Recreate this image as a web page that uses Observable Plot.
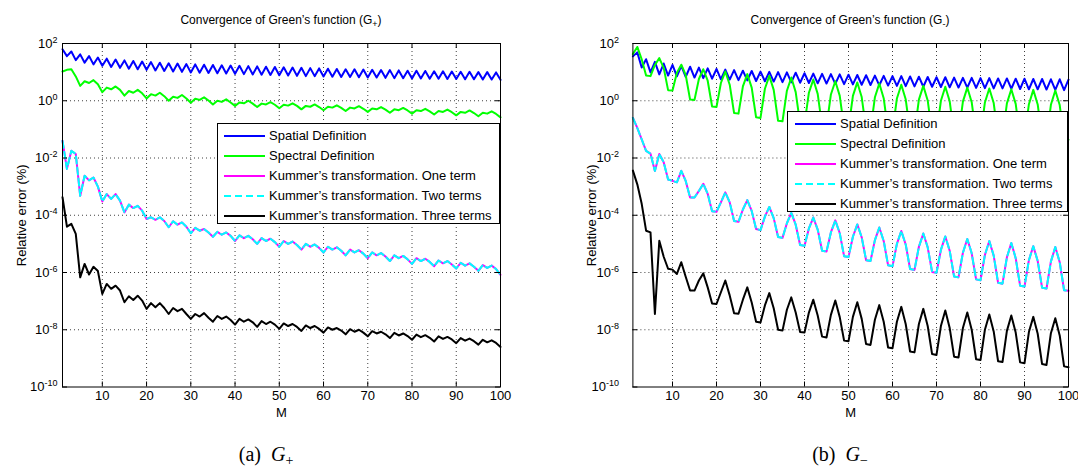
<!DOCTYPE html>
<html><head><meta charset="utf-8">
<script src="https://cdn.jsdelivr.net/npm/d3@7"></script>
<script src="https://cdn.jsdelivr.net/npm/@observablehq/plot@0.6"></script>
<style>
body{margin:0;background:#fff;width:1078px;height:473px;overflow:hidden;position:relative;font-family:"Liberation Sans",Arial,sans-serif;color:#000}
.panel{position:absolute;top:0;height:473px}
.panel svg{position:absolute;left:0;top:0;overflow:visible}
.title{position:absolute;top:13px;font-size:12px;white-space:nowrap;transform:translateX(-50%)}
.title sub{font-size:9px;vertical-align:-3px;line-height:0}
.caption{position:absolute;top:443px;font-family:"Liberation Serif","DejaVu Serif",serif;font-size:20px;white-space:nowrap;transform:translateX(-50%)}
.caption sub{font-size:14px;vertical-align:-4px;line-height:0}
.legend{position:absolute;background:#fff;border:1px solid #000;box-sizing:border-box;z-index:5}
.legend .row{position:absolute;left:0;height:20px;font-size:13px;white-space:nowrap;line-height:20px}
.legend svg{position:absolute;top:0}
</style></head><body>
<div id="pa" class="panel" style="left:0;width:540px"></div>
<div id="pb" class="panel" style="left:540px;width:538px"></div>
<script>
// ---- data (log10 of relative error %, at M = 1..100) ----
const M = Array.from({length: 100}, (_, i) => i + 1);
const xTicks = [10, 20, 30, 40, 50, 60, 70, 80, 90, 100];
const yTicks = [1e2, 1e0, 1e-2, 1e-4, 1e-6, 1e-8, 1e-10];
const yTickExp = ["2", "0", "-2", "-4", "-6", "-8", "-10"];
const seriesNames = ["Spatial Definition", "Spectral Definition", "Kummer’s transformation. One term", "Kummer’s transformation. Two terms", "Kummer’s transformation. Three terms"];
const seriesColors = ["#0000ff", "#00ff00", "#ff00ff", "#00ffff", "#000000"];

// Panel (a) G+
const spatialA = [
 1.80,1.56,1.72,1.42,1.62,1.33,1.56,1.27,1.51,1.22,
 1.47,1.18,1.44,1.15,1.41,1.12,1.39,1.10,1.37,1.08,
 1.35,1.06,1.33,1.04,1.31,1.02,1.30,1.01,1.28,0.99,
 1.27,0.98,1.26,0.97,1.25,0.96,1.24,0.95,1.23,0.94,
 1.22,0.93,1.21,0.92,1.20,0.91,1.19,0.90,1.18,0.89,
 1.17,0.88,1.16,0.87,1.15,0.86,1.14,0.86,1.13,0.85,
 1.12,0.84,1.11,0.83,1.10,0.83,1.10,0.82,1.09,0.81,
 1.08,0.81,1.07,0.80,1.07,0.79,1.06,0.79,1.05,0.78,
 1.05,0.78,1.04,0.77,1.03,0.77,1.03,0.76,1.02,0.76,
 1.01,0.75,1.01,0.75,1.00,0.74,1.00,0.74,0.99,0.73];
const spectralA = [
 1.02,1.08,1.10,0.85,0.52,0.68,0.62,0.72,0.58,0.30,
 0.46,0.40,0.50,0.38,0.18,0.34,0.28,0.38,0.26,0.08,
 0.23,0.18,0.28,0.16,0.00,0.14,0.10,0.20,0.08,-0.07,
 0.07,0.03,0.12,0.01,-0.13,0.00,-0.04,0.05,-0.06,-0.18,
 -0.06,-0.09,0.00,-0.10,-0.22,-0.10,-0.13,-0.05,-0.14,-0.26,
 -0.14,-0.17,-0.09,-0.18,-0.30,-0.18,-0.21,-0.13,-0.22,-0.33,
 -0.21,-0.24,-0.16,-0.25,-0.36,-0.24,-0.27,-0.19,-0.28,-0.39,
 -0.27,-0.30,-0.22,-0.31,-0.42,-0.30,-0.33,-0.25,-0.34,-0.45,
 -0.33,-0.36,-0.28,-0.37,-0.48,-0.36,-0.39,-0.31,-0.40,-0.51,
 -0.39,-0.42,-0.34,-0.43,-0.54,-0.42,-0.45,-0.37,-0.46,-0.58];
const kummer1A = [
 -1.40,-2.38,-1.75,-1.86,-3.32,-2.62,-2.78,-2.68,-3.00,-3.52,
 -3.26,-3.43,-3.26,-3.49,-3.90,-3.63,-3.75,-3.67,-3.84,-4.13,
 -4.07,-4.16,-4.07,-4.20,-4.42,-4.21,-4.33,-4.25,-4.40,-4.63,
 -4.44,-4.54,-4.48,-4.60,-4.75,-4.58,-4.68,-4.60,-4.72,-4.90,
 -4.70,-4.80,-4.72,-4.84,-5.00,-4.80,-4.90,-4.82,-4.94,-5.10,
 -4.90,-5.00,-4.92,-5.04,-5.20,-5.00,-5.10,-5.02,-5.14,-5.30,
 -5.10,-5.20,-5.12,-5.24,-5.40,-5.20,-5.30,-5.22,-5.34,-5.50,
 -5.30,-5.40,-5.32,-5.44,-5.60,-5.40,-5.50,-5.42,-5.54,-5.70,
 -5.50,-5.60,-5.52,-5.63,-5.78,-5.58,-5.68,-5.60,-5.72,-5.86,
 -5.66,-5.76,-5.68,-5.80,-5.94,-5.74,-5.84,-5.76,-5.88,-6.08];
const kummer2A = [
 -1.40,-2.38,-1.75,-1.86,-3.32,-2.62,-2.78,-2.68,-3.00,-3.52,
 -3.26,-3.43,-3.26,-3.49,-3.90,-3.63,-3.75,-3.67,-3.84,-4.13,
 -4.07,-4.16,-4.07,-4.20,-4.42,-4.21,-4.33,-4.25,-4.40,-4.63,
 -4.44,-4.54,-4.48,-4.60,-4.75,-4.58,-4.68,-4.60,-4.72,-4.90,
 -4.70,-4.80,-4.72,-4.84,-5.00,-4.80,-4.90,-4.82,-4.94,-5.10,
 -4.90,-5.00,-4.92,-5.04,-5.20,-5.00,-5.10,-5.02,-5.14,-5.30,
 -5.10,-5.20,-5.12,-5.24,-5.40,-5.20,-5.30,-5.22,-5.34,-5.50,
 -5.30,-5.40,-5.32,-5.44,-5.60,-5.40,-5.50,-5.42,-5.54,-5.70,
 -5.50,-5.60,-5.52,-5.63,-5.78,-5.58,-5.68,-5.60,-5.72,-5.86,
 -5.66,-5.76,-5.68,-5.80,-5.94,-5.74,-5.84,-5.76,-5.88,-6.08];
const kummer3A = [
 -3.37,-4.40,-4.30,-4.65,-6.17,-5.70,-6.07,-5.80,-5.95,-6.75,
 -6.40,-6.57,-6.46,-6.63,-7.04,-6.83,-6.96,-6.81,-6.98,-7.27,
 -7.07,-7.21,-7.07,-7.24,-7.45,-7.24,-7.35,-7.27,-7.45,-7.62,
 -7.45,-7.54,-7.42,-7.58,-7.72,-7.52,-7.62,-7.54,-7.66,-7.82,
 -7.62,-7.72,-7.64,-7.74,-7.90,-7.70,-7.80,-7.72,-7.82,-7.97,
 -7.78,-7.87,-7.80,-7.90,-8.04,-7.85,-7.94,-7.87,-7.97,-8.10,
 -7.92,-8.00,-7.94,-8.03,-8.16,-7.98,-8.07,-8.00,-8.10,-8.23,
 -8.05,-8.13,-8.07,-8.16,-8.29,-8.11,-8.20,-8.13,-8.22,-8.35,
 -8.17,-8.26,-8.19,-8.28,-8.41,-8.23,-8.32,-8.25,-8.34,-8.47,
 -8.29,-8.38,-8.31,-8.40,-8.52,-8.35,-8.44,-8.37,-8.46,-8.60];

// Panel (b) G-
const spatialB = [
 1.55,1.69,1.16,1.45,0.99,1.36,0.92,1.30,0.88,1.25,
 0.85,1.22,0.83,1.19,0.81,1.16,0.79,1.13,0.77,1.11,
 0.75,1.09,0.74,1.07,0.72,1.05,0.71,1.04,0.69,1.02,
 0.68,1.01,0.67,1.00,0.65,0.99,0.64,0.98,0.63,0.96,
 0.62,0.95,0.61,0.94,0.60,0.93,0.59,0.92,0.58,0.91,
 0.57,0.90,0.56,0.89,0.55,0.88,0.54,0.87,0.53,0.86,
 0.52,0.86,0.51,0.85,0.50,0.84,0.49,0.83,0.49,0.82,
 0.48,0.82,0.47,0.81,0.46,0.80,0.46,0.80,0.45,0.79,
 0.44,0.79,0.43,0.78,0.43,0.78,0.42,0.77,0.41,0.77,
 0.40,0.76,0.40,0.76,0.39,0.75,0.38,0.75,0.37,0.74];
const spectralB = [
 1.63,1.88,1.45,0.88,0.86,1.25,1.49,1.15,0.37,0.36,
 0.98,1.26,0.90,0.04,0.03,0.76,1.10,0.70,-0.20,-0.22,
 0.62,1.02,0.56,-0.43,-0.45,0.50,0.93,0.46,-0.58,-0.60,
 0.42,0.87,0.38,-0.70,-0.72,0.35,0.81,0.30,-0.80,-0.82,
 0.28,0.74,0.24,-0.88,-0.90,0.22,0.68,0.18,-0.95,-0.97,
 0.17,0.64,0.13,-1.01,-1.03,0.12,0.60,0.09,-1.06,-1.08,
 0.08,0.56,0.05,-1.10,-1.12,0.04,0.52,0.01,-1.14,-1.16,
 0.00,0.49,-0.02,-1.18,-1.20,-0.03,0.46,-0.05,-1.22,-1.24,
 -0.06,0.43,-0.08,-1.25,-1.27,-0.09,0.40,-0.11,-1.28,-1.30,
 -0.12,0.38,-0.13,-1.31,-1.33,-0.14,0.36,-0.15,-1.34,-1.36];
const kummer1B = [
 -0.60,-0.95,-1.35,-1.75,-1.85,-2.45,-1.86,-2.15,-2.75,-2.80,
 -2.85,-2.45,-2.80,-3.38,-3.38,-3.15,-2.90,-3.25,-3.86,-3.88,
 -3.55,-3.20,-3.55,-4.20,-4.23,-3.80,-3.47,-3.85,-4.48,-4.52,
 -4.05,-3.71,-4.10,-4.76,-4.79,-4.28,-3.92,-4.33,-5.04,-5.07,
 -4.46,-4.08,-4.50,-5.24,-5.27,-4.60,-4.18,-4.62,-5.43,-5.46,
 -4.75,-4.32,-4.77,-5.57,-5.60,-4.87,-4.43,-4.90,-5.75,-5.78,
 -5.00,-4.55,-5.02,-5.88,-5.91,-5.10,-4.64,-5.12,-5.98,-6.01,
 -5.21,-4.74,-5.24,-6.14,-6.17,-5.31,-4.83,-5.33,-6.24,-6.27,
 -5.39,-4.90,-5.41,-6.36,-6.39,-5.47,-4.97,-5.50,-6.46,-6.49,
 -5.57,-5.08,-5.60,-6.53,-6.56,-5.62,-5.11,-5.64,-6.62,-6.64];
const kummer2B = [
 -0.60,-0.95,-1.35,-1.75,-1.85,-2.45,-1.86,-2.15,-2.75,-2.80,
 -2.85,-2.45,-2.80,-3.38,-3.38,-3.15,-2.90,-3.25,-3.86,-3.88,
 -3.55,-3.20,-3.55,-4.20,-4.23,-3.80,-3.47,-3.85,-4.48,-4.52,
 -4.05,-3.71,-4.10,-4.76,-4.79,-4.28,-3.92,-4.33,-5.04,-5.07,
 -4.46,-4.08,-4.50,-5.24,-5.27,-4.60,-4.18,-4.62,-5.43,-5.46,
 -4.75,-4.32,-4.77,-5.57,-5.60,-4.87,-4.43,-4.90,-5.75,-5.78,
 -5.00,-4.55,-5.02,-5.88,-5.91,-5.10,-4.64,-5.12,-5.98,-6.01,
 -5.21,-4.74,-5.24,-6.14,-6.17,-5.31,-4.83,-5.33,-6.24,-6.27,
 -5.39,-4.90,-5.41,-6.36,-6.39,-5.47,-4.97,-5.50,-6.46,-6.49,
 -5.57,-5.08,-5.60,-6.53,-6.56,-5.62,-5.11,-5.64,-6.62,-6.64];
const kummer3B = [
 -2.44,-2.92,-3.60,-4.54,-4.60,-7.45,-4.89,-5.45,-5.87,-5.90,
 -6.05,-5.64,-6.15,-6.63,-6.63,-6.28,-6.03,-6.52,-7.08,-7.10,
 -6.69,-6.28,-6.80,-7.42,-7.44,-6.95,-6.52,-7.05,-7.72,-7.75,
 -7.15,-6.72,-7.25,-8.00,-8.03,-7.30,-6.87,-7.40,-8.08,-8.10,
 -7.40,-6.95,-7.50,-8.24,-8.27,-7.48,-6.98,-7.55,-8.38,-8.40,
 -7.55,-7.04,-7.62,-8.50,-8.53,-7.65,-7.14,-7.72,-8.62,-8.65,
 -7.72,-7.20,-7.80,-8.76,-8.79,-7.80,-7.27,-7.87,-8.85,-8.88,
 -7.87,-7.33,-7.94,-8.94,-8.97,-7.94,-7.40,-8.00,-9.03,-9.06,
 -8.00,-7.47,-8.06,-9.10,-9.13,-8.04,-7.50,-8.10,-9.14,-9.17,
 -8.08,-7.55,-8.14,-9.20,-9.23,-8.12,-7.60,-8.20,-9.28,-9.31];

// ---- drawing ----
const H = 430, AX_TOP = 43, AX_BOTTOM = 386.5;

function drawPanel(el, opts) {
  const {width, ml, mr, series, title, titleX, caption, captionX, legend} = opts;
  const mt = AX_TOP, mb = H - AX_BOTTOM;
  const innerH = AX_BOTTOM - AX_TOP, innerW = width - ml - mr;
  const lineMarks = series.map((vals, k) => Plot.line(
    M.map((m, i) => ({M: m, v: Math.pow(10, vals[i])})),
    {x: "M", y: "v", stroke: seriesColors[k], strokeWidth: 2,
     strokeDasharray: k === 3 ? "7,4" : null, strokeLinejoin: "round"}));
  const svg = Plot.plot({
    width, height: H, marginTop: mt, marginBottom: mb, marginLeft: ml, marginRight: mr,
    style: {fontFamily: "'Liberation Sans', Arial, sans-serif", fontSize: "13px", background: "transparent", overflow: "visible", color: "#000"},
    x: {domain: [1, 100]},
    y: {type: "log", domain: [1e-10, 1e2]},
    marks: [
      Plot.gridX(xTicks.slice(0, -1), {stroke: "#000", strokeOpacity: 0.75, strokeDasharray: "1,3"}),
      Plot.gridY(yTicks.slice(1, -1), {stroke: "#000", strokeOpacity: 0.75, strokeDasharray: "1,3"}),
      ...lineMarks,
      Plot.tickX(xTicks, {x: d => d, insetTop: innerH - 5, stroke: "#000"}),
      Plot.tickX(xTicks, {x: d => d, insetBottom: innerH - 5, stroke: "#000"}),
      Plot.tickY(yTicks, {y: d => d, insetRight: innerW - 5, stroke: "#000"}),
      Plot.tickY(yTicks, {y: d => d, insetLeft: innerW - 5, stroke: "#000"}),
      Plot.axisX(xTicks, {tickSize: 0, tickPadding: 4, fontSize: 13, label: "M", labelAnchor: "center", labelArrow: "none", labelOffset: 30}),
      Plot.axisY(yTicks, {tickSize: 0, tickPadding: opts.ytickPad, fontSize: 13, tickFormat: (d) => "10^" + yTickExp[yTicks.indexOf(d)], label: "Relative error (%)", labelAnchor: "center", labelArrow: "none", labelOffset: 46}),
      Plot.frame({stroke: "#000"})
    ]
  });
  // superscript exponents on y tick labels
  svg.querySelectorAll('g[aria-label="y-axis tick label"] text').forEach(t => {
    const parts = t.textContent.split("^");
    if (parts.length < 2) return;
    t.textContent = "";
    t.appendChild(document.createTextNode(parts[0]));
    const ts = document.createElementNS("http://www.w3.org/2000/svg", "tspan");
    ts.setAttribute("dy", "-0.55em");
    ts.setAttribute("font-size", "9");
    ts.textContent = parts[1];
    t.appendChild(ts);
  });
  el.appendChild(svg);

  const t = document.createElement("div");
  t.className = "title"; t.style.left = titleX + "px"; t.innerHTML = title;
  el.appendChild(t);
  const c = document.createElement("div");
  c.className = "caption"; c.style.left = captionX + "px"; c.innerHTML = caption;
  el.appendChild(c);

  const lg = document.createElement("div");
  lg.className = "legend";
  Object.assign(lg.style, {left: legend.left + "px", top: legend.top + "px", width: legend.w + "px", height: legend.h + "px"});
  seriesNames.forEach((name, k) => {
    const row = document.createElement("div");
    row.className = "row";
    row.style.top = (legend.row0 + 20 * k - 10) + "px";
    row.style.width = "100%";
    const s = document.createElementNS("http://www.w3.org/2000/svg", "svg");
    s.setAttribute("width", legend.sampleW); s.setAttribute("height", 20);
    s.style.left = legend.sampleX + "px";
    const ln = document.createElementNS("http://www.w3.org/2000/svg", "line");
    ln.setAttribute("x1", 0); ln.setAttribute("x2", legend.sampleW);
    ln.setAttribute("y1", 10); ln.setAttribute("y2", 10);
    ln.setAttribute("stroke", seriesColors[k]); ln.setAttribute("stroke-width", 2);
    if (k === 3) ln.setAttribute("stroke-dasharray", "7,4");
    s.appendChild(ln);
    row.appendChild(s);
    const tx = document.createElement("span");
    tx.textContent = name;
    tx.style.position = "absolute"; tx.style.left = legend.textX + "px";
    row.appendChild(tx);
    lg.appendChild(row);
  });
  el.appendChild(lg);
}

drawPanel(document.getElementById("pa"), {
  width: 540, ml: 62, mr: 40, ytickPad: 5,
  series: [spatialA, spectralA, kummer1A, kummer2A, kummer3A],
  title: "Convergence of Green’s function (G<sub>+</sub>)", titleX: 281,
  caption: "(a)&nbsp;&nbsp;<i>G</i><sub>+</sub>", captionX: 266,
  legend: {left: 217, top: 123, w: 283, h: 101, row0: 11.5, sampleX: 6, sampleW: 41, textX: 51}
});
drawPanel(document.getElementById("pb"), {
  width: 538, ml: 92.4, mr: 10, ytickPad: 14,
  series: [spatialB, spectralB, kummer1B, kummer2B, kummer3B],
  title: "Convergence of Green’s function (G<sub>-</sub>)", titleX: 310,
  caption: "(b)&nbsp;&nbsp;<i>G</i><sub>−</sub>", captionX: 300,
  legend: {left: 247, top: 111, w: 281, h: 101, row0: 11.5, sampleX: 7, sampleW: 41, textX: 52}
});
</script>
</body></html>
